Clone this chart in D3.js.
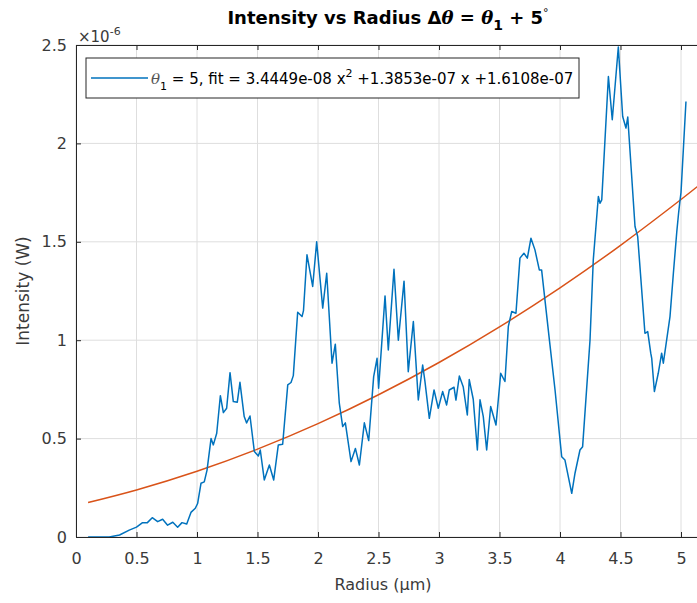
<!DOCTYPE html>
<html>
<head>
<meta charset="utf-8">
<script src="https://cdn.jsdelivr.net/npm/d3@7"></script>
<style>
  body { margin: 0; background: #fff; }
  svg { font-family: "DejaVu Sans", Arial, Helvetica, sans-serif; }
</style>
</head>
<body>
<div id="chart"></div>
<script>
// Radius (um) and intensity (x1e-6 W)
const radius = [0.10, 0.20, 0.275, 0.36, 0.44, 0.50, 0.55, 0.59, 0.63, 0.675, 0.716, 0.757, 0.80, 0.84, 0.876, 0.915, 0.95, 0.986,
  1.005, 1.033, 1.06, 1.083, 1.116, 1.135, 1.163, 1.193, 1.218, 1.245, 1.273, 1.30, 1.333, 1.355, 1.39, 1.41, 1.438, 1.474,
  1.507, 1.523, 1.556, 1.598, 1.634, 1.672, 1.708, 1.75, 1.777, 1.796, 1.832, 1.868, 1.88, 1.909, 1.956, 1.989,
  2.039, 2.072, 2.116, 2.143, 2.176, 2.204, 2.226, 2.273, 2.309, 2.342, 2.383, 2.419, 2.46, 2.488, 2.501, 2.554,
  2.581, 2.628, 2.664, 2.711, 2.746, 2.788, 2.829, 2.865, 2.884, 2.92, 2.959, 2.994, 3.03, 3.063, 3.085, 3.124,
  3.14, 3.168, 3.20, 3.234, 3.25, 3.283, 3.317, 3.339, 3.366, 3.394, 3.427, 3.471, 3.51, 3.545, 3.573, 3.601,
  3.636, 3.669, 3.702, 3.73, 3.76, 3.793, 3.829, 3.848, 3.917, 3.959, 4.014, 4.041, 4.097, 4.124, 4.165, 4.187,
  4.248, 4.275, 4.317, 4.331, 4.345, 4.40, 4.432, 4.482, 4.518, 4.545, 4.56, 4.62, 4.642, 4.702, 4.725, 4.75,
  4.758, 4.78, 4.812, 4.84, 4.854, 4.909, 4.937, 4.965, 4.98, 4.99, 5.0, 5.041];
const intensity = [0.0, 0.0, 0.0, 0.01, 0.035, 0.05, 0.073, 0.073, 0.098, 0.078, 0.09, 0.06, 0.075, 0.05, 0.073, 0.066, 0.125, 0.146,
  0.17, 0.273, 0.28, 0.34, 0.50, 0.468, 0.527, 0.718, 0.632, 0.654, 0.835, 0.688, 0.685, 0.786, 0.612, 0.58, 0.615, 0.434,
  0.412, 0.442, 0.29, 0.366, 0.29, 0.468, 0.471, 0.773, 0.785, 0.82, 1.142, 1.12, 1.15, 1.434, 1.273, 1.50,
  1.163, 1.34, 0.883, 0.98, 0.68, 0.561, 0.58, 0.383, 0.45, 0.366, 0.58, 0.49, 0.815, 0.908, 0.756, 1.225,
  0.95, 1.36, 1.0, 1.30, 0.84, 1.095, 0.696, 0.874, 0.79, 0.603, 0.747, 0.654, 0.739, 0.671, 0.747, 0.761,
  0.696, 0.818, 0.764, 0.62, 0.80, 0.70, 0.442, 0.697, 0.612, 0.442, 0.663, 0.569, 0.832, 0.79, 1.07, 1.146,
  1.137, 1.417, 1.442, 1.417, 1.518, 1.459, 1.357, 1.357, 0.976, 0.747, 0.408, 0.391, 0.222, 0.324, 0.442, 0.459,
  1.0, 1.408, 1.73, 1.696, 1.713, 2.34, 2.12, 2.49, 2.137, 2.078, 2.134, 1.578, 1.527, 1.035, 1.044, 0.934,
  0.908, 0.739, 0.832, 0.934, 0.883, 1.12, 1.34, 1.55, 1.645, 1.70, 1.75, 2.213];

// quadratic fit curve (x1e-6 W) at a few radii
const fitRadius = [0.1, 0.5, 1.0, 1.5, 2.0, 2.5, 3.0, 3.5, 4.0, 4.5, 5.0, 5.2];
const fitIntensity = [0.1753, 0.2390, 0.3341, 0.4464, 0.5759, 0.7227, 0.8867, 1.0679, 1.2664, 1.4821, 1.7150, 1.8129];

const xTicks = [0, 0.5, 1, 1.5, 2, 2.5, 3, 3.5, 4, 4.5, 5];
const xTickLabels = ['0', '0.5', '1', '1.5', '2', '2.5', '3', '3.5', '4', '4.5', '5'];
const yTicks = [0, 0.5, 1, 1.5, 2, 2.5];
const yTickLabels = ['0', '0.5', '1', '1.5', '2', '2.5'];

const W = 697, H = 603;
const mLeft = 76, mTop = 45, mBottom = 537;
const mRight = mLeft + 5.2 * 121;   // axes run past the window edge

const svg = d3.select('#chart').append('svg')
  .attr('width', W).attr('height', H);

const x = d3.scaleLinear().domain([0, 5.2]).range([mLeft, mRight]);
const y = d3.scaleLinear().domain([0, 2.5]).range([mBottom, mTop]);

const axisColor = '#262626';
const textColor = '#3a3a3a';
const serif = '"DejaVu Serif", "Liberation Serif", serif';

// grid
svg.append('g')
  .selectAll('line').data(xTicks).join('line')
  .attr('x1', d => x(d)).attr('x2', d => x(d))
  .attr('y1', mTop).attr('y2', mBottom)
  .attr('stroke', '#dedede').attr('stroke-width', 1);
svg.append('g')
  .selectAll('line').data(yTicks).join('line')
  .attr('x1', mLeft).attr('x2', mRight)
  .attr('y1', d => y(d)).attr('y2', d => y(d))
  .attr('stroke', '#dedede').attr('stroke-width', 1);

// data lines
svg.append('defs').append('clipPath').attr('id', 'clip')
  .append('rect').attr('x', mLeft).attr('y', mTop).attr('width', mRight - mLeft).attr('height', mBottom - mTop);

const fitLine = d3.line().x((d, i) => x(fitRadius[i])).y(d => y(d)).curve(d3.curveNatural);
svg.append('path')
  .attr('clip-path', 'url(#clip)')
  .attr('d', fitLine(fitIntensity))
  .attr('fill', 'none').attr('stroke', '#D95319').attr('stroke-width', 1.5);

const dataLine = d3.line().x((d, i) => x(radius[i])).y(d => y(d));
svg.append('path')
  .attr('clip-path', 'url(#clip)')
  .attr('d', dataLine(intensity))
  .attr('fill', 'none').attr('stroke', '#0072BD').attr('stroke-width', 1.5)
  .attr('stroke-linejoin', 'round');

// axes
const xAxis = svg.append('g').attr('transform', `translate(0,${mBottom})`)
  .call(d3.axisBottom(x).tickValues(xTicks).tickFormat((d, i) => xTickLabels[i])
    .tickSizeInner(-5).tickSizeOuter(0).tickPadding(13));
const xTop = svg.append('g').attr('transform', `translate(0,${mTop})`)
  .call(d3.axisTop(x).tickValues(xTicks).tickFormat('')
    .tickSizeInner(-5).tickSizeOuter(0));
const yAxis = svg.append('g').attr('transform', `translate(${mLeft},0)`)
  .call(d3.axisLeft(y).tickValues(yTicks).tickFormat((d, i) => yTickLabels[i])
    .tickSizeInner(-5).tickSizeOuter(0).tickPadding(9));

[xAxis, xTop, yAxis].forEach(g => {
  g.select('.domain').attr('stroke', axisColor).attr('stroke-width', 1);
  g.selectAll('.tick line').attr('stroke', axisColor);
  g.selectAll('.tick text').attr('fill', textColor)
    .attr('font-size', 16).attr('font-family', '"DejaVu Sans", Arial, sans-serif');
});
xAxis.selectAll('.tick text').attr('dy', '0.85em');

// exponent label
const ex = svg.append('text').attr('x', 78).attr('y', 42)
  .attr('fill', textColor).attr('font-size', 15);
ex.append('tspan').text('\u00d710');
ex.append('tspan').attr('dy', -7).attr('font-size', 11).text('-6');

// axis labels
svg.append('text').attr('x', 383).attr('y', 590)
  .attr('text-anchor', 'middle').attr('fill', textColor).attr('font-size', 16)
  .text('Radius (\u00b5m)');
svg.append('text').attr('transform', `translate(29,${(mTop + mBottom) / 2}) rotate(-90)`)
  .attr('text-anchor', 'middle').attr('fill', textColor).attr('font-size', 17)
  .text('Intensity (W)');

// title
const title = svg.append('text').attr('x', 388).attr('y', 24)
  .attr('text-anchor', 'middle').attr('fill', '#000').attr('font-size', 18).attr('font-weight', 'bold');
title.append('tspan').text('Intensity vs Radius \u0394');
title.append('tspan').attr('font-style', 'italic').attr('font-family', serif).text('\u03b8');
title.append('tspan').text(' = ');
title.append('tspan').attr('font-style', 'italic').attr('font-family', serif).text('\u03b8');
title.append('tspan').attr('dy', 6).attr('font-size', 14).text('1');
title.append('tspan').attr('dy', -6).text(' + 5');
title.append('tspan').attr('dy', -8).attr('font-size', 11).attr('font-weight', 'normal').text('\u00b0');

// legend
const lg = svg.append('g');
lg.append('rect').attr('x', 86).attr('y', 58).attr('width', 493).attr('height', 40)
  .attr('fill', '#fff').attr('stroke', axisColor).attr('stroke-width', 1);
lg.append('line').attr('x1', 91).attr('x2', 148).attr('y1', 78).attr('y2', 78)
  .attr('stroke', '#0072BD').attr('stroke-width', 1.5);
const lt = lg.append('text').attr('x', 151).attr('y', 84).attr('fill', '#000').attr('font-size', 15);
lt.append('tspan').attr('font-style', 'italic').attr('font-family', serif).attr('fill', '#555').text('\u03b8');
lt.append('tspan').attr('dy', 6).attr('font-size', 11).text('1');
lt.append('tspan').attr('dy', -6).text(' = 5, fit = 3.4449e-08 x');
lt.append('tspan').attr('dy', -7).attr('font-size', 11).text('2');
lt.append('tspan').attr('dy', 7).text(' +1.3853e-07 x +1.6108e-07');
</script>
</body>
</html>
